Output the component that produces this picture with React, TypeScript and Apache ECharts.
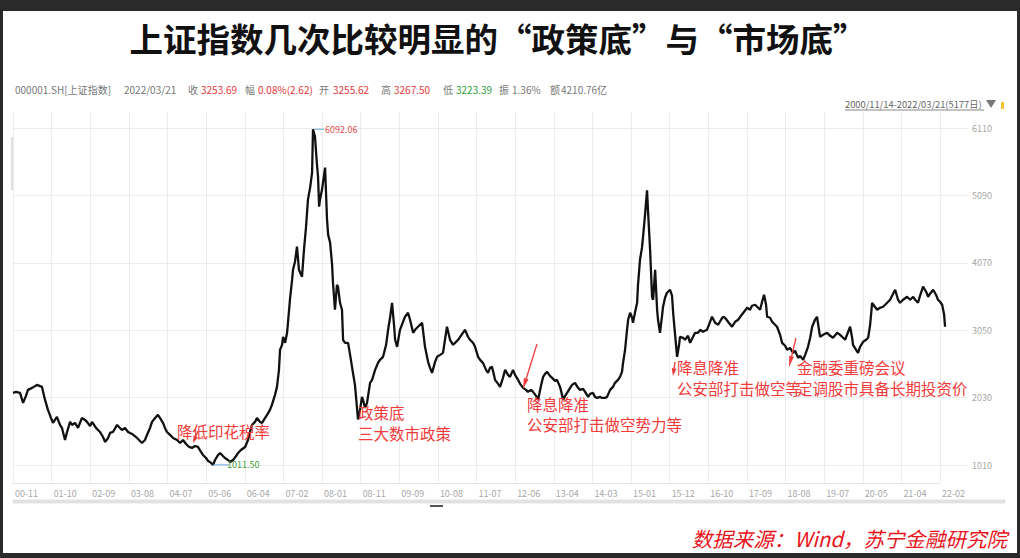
import React, { useEffect, useRef } from "react";
import * as echarts from "echarts";

// ---------------- data ----------------
const X_LABELS = [
  "00-11", "01-10", "02-09", "03-08", "04-07", "05-06", "06-04", "07-02", "08-01",
  "08-11", "09-09", "10-08", "11-07", "12-06", "13-04", "14-03", "15-01", "15-12",
  "16-10", "17-09", "18-08", "19-07", "20-05", "21-04", "22-02",
];
const Y_MIN = 1010;
const Y_MAX = 6110;
const Y_STEP = 1020;
const DAYS_PER_LABEL = 214.5; // trading days between two axis labels

// trading-day index (from 2000/11/14) and closing level of 上证指数
const TRADING_DAY = [
  0, 17, 39, 56, 72, 83, 106, 133, 161, 178, 194, 211, 222, 233, 244, 261, 272, 289, 300, 317,
  328, 344, 361, 383, 400, 411, 428, 439, 461, 483, 500, 511, 528, 539, 555, 578, 594, 605, 622, 639,
  661, 689, 716, 733, 744, 761, 772, 789, 805, 816, 833, 844, 855, 872, 889, 911, 928, 944, 961, 978,
  994, 1011, 1027, 1044, 1055, 1072, 1083, 1094, 1111, 1122, 1139, 1150, 1166, 1177, 1194, 1205, 1222, 1239, 1250, 1266,
  1289, 1305, 1316, 1327, 1344, 1355, 1372, 1383, 1400, 1411, 1427, 1438, 1455, 1466, 1477, 1483, 1494, 1500, 1511, 1522,
  1527, 1538, 1550, 1555, 1566, 1577, 1588, 1605, 1616, 1627, 1638, 1650, 1661, 1666, 1677, 1688, 1694, 1700, 1705, 1716,
  1733, 1744, 1750, 1761, 1772, 1777, 1788, 1799, 1805, 1816, 1827, 1833, 1844, 1861, 1872, 1888, 1899, 1916, 1927, 1938,
  1944, 1955, 1966, 1983, 1994, 2011, 2027, 2038, 2055, 2072, 2083, 2094, 2105, 2116, 2122, 2133, 2149, 2166, 2177, 2194,
  2205, 2222, 2233, 2249, 2272, 2288, 2305, 2316, 2327, 2344, 2355, 2372, 2388, 2399, 2410, 2427, 2444, 2455, 2472, 2483,
  2499, 2510, 2527, 2538, 2555, 2566, 2583, 2594, 2610, 2627, 2638, 2649, 2660, 2671, 2677, 2694, 2705, 2721, 2733, 2749,
  2760, 2777, 2788, 2805, 2816, 2833, 2849, 2860, 2877, 2888, 2905, 2916, 2933, 2944, 2955, 2966, 2982, 2994, 3010, 3021,
  3038, 3049, 3055, 3066, 3077, 3094, 3105, 3121, 3138, 3149, 3166, 3177, 3194, 3205, 3221, 3232, 3244, 3260, 3271, 3288,
  3299, 3316, 3332, 3343, 3360, 3371, 3382, 3388, 3399, 3410, 3416, 3427, 3438, 3443, 3455, 3466, 3471, 3482, 3493, 3499,
  3510, 3521, 3527, 3538, 3549, 3555, 3566, 3577, 3582, 3593, 3605, 3610, 3621, 3632, 3649, 3660, 3666, 3677, 3688, 3699,
  3704, 3721, 3732, 3749, 3760, 3777, 3788, 3804, 3816, 3832, 3854, 3871, 3882, 3899, 3916, 3932, 3943, 3954, 3971, 3993,
  4010, 4027, 4043, 4060, 4077, 4093, 4104, 4121, 4138, 4149, 4160, 4171, 4182, 4188, 4204, 4216, 4232, 4243, 4260, 4271,
  4288, 4299, 4315, 4332, 4343, 4360, 4371, 4388, 4399, 4415, 4427, 4438, 4454, 4465, 4476, 4482, 4499, 4521, 4538, 4554,
  4577, 4593, 4610, 4621, 4638, 4649, 4660, 4665, 4682, 4693, 4704, 4721, 4738, 4749, 4760, 4771, 4782, 4799, 4815, 4832,
  4849, 4871, 4882, 4899, 4915, 4926, 4943, 4965, 4982, 4999, 5010, 5026, 5037, 5054, 5071, 5082, 5093, 5110, 5126, 5137,
  5148, 5160, 5171, 5176,
];
const CLOSE = [
  2101, 2116, 2101, 1950, 2056, 2147, 2177, 2222, 2192, 1995,
  1844, 1722, 1647, 1692, 1737, 1616, 1571, 1389, 1510, 1662,
  1616, 1647, 1571, 1722, 1692, 1662, 1601, 1662, 1571, 1510,
  1434, 1359, 1419, 1495, 1510, 1616, 1571, 1540, 1571, 1510,
  1480, 1419, 1343, 1389, 1465, 1571, 1662, 1722, 1768, 1722,
  1647, 1571, 1510, 1465, 1419, 1389, 1343, 1389, 1328, 1283,
  1268, 1298, 1283, 1207, 1162, 1116, 1071, 1055, 1011.5, 1086,
  1162, 1192, 1146, 1116, 1086, 1055, 1086, 1146, 1192, 1237,
  1283, 1389, 1510, 1616, 1662, 1722, 1662, 1647, 1722, 1768,
  1844, 1919, 2071, 2192, 2450, 2753, 2829, 2950, 2859, 3011,
  3162, 3511, 3814, 3965, 4087, 4314, 3965, 3859, 4269, 4602,
  5026, 5208, 5436, 6092.06, 5981, 5557, 5375, 4920, 5026, 5178,
  5511, 4723, 4496, 4375, 4041, 3768, 3359, 3738, 3708, 3465,
  3359, 2905, 2859, 2859, 2677, 2404, 2222, 1700, 1844, 2041,
  1995, 1874, 1950, 2253, 2298, 2450, 2556, 2601, 2647, 2829,
  3056, 3238, 3465, 3132, 2905, 2798, 3056, 3177, 3253, 3314,
  3208, 3011, 3056, 3102, 3162, 2798, 2571, 2480, 2404, 2571,
  2647, 2677, 2707, 2905, 3102, 2905, 2829, 2859, 2905, 2950,
  3011, 3056, 2950, 2905, 2859, 2798, 2647, 2601, 2556, 2450,
  2404, 2480, 2495, 2374, 2298, 2238, 2192, 2329, 2450, 2374,
  2344, 2450, 2374, 2298, 2238, 2177, 2147, 2116, 2147, 2116,
  2056, 1995, 2222, 2344, 2389, 2420, 2359, 2329, 2283, 2298,
  2192, 2071, 1995, 2056, 2101, 2177, 2222, 2253, 2177, 2147,
  2162, 2116, 2041, 2086, 2101, 2041, 2025, 2041, 2025, 2025,
  2041, 2147, 2192, 2253, 2298, 2344, 2420, 2556, 2753, 3056,
  3208, 3314, 3238, 3162, 3329, 3465, 3738, 4117, 4299, 4466,
  4799, 5166, 4829, 4269, 3556, 3511, 3965, 3359, 3208, 3011,
  3283, 3405, 3541, 3617, 3662, 3571, 3314, 2980, 2647, 2829,
  2950, 2935, 2905, 2965, 2859, 2950, 3011, 3011, 3056, 3026,
  3056, 3177, 3253, 3162, 3132, 3208, 3253, 3238, 3177, 3102,
  3177, 3208, 3268, 3329, 3389, 3359, 3420, 3435, 3389, 3359,
  3480, 3587, 3435, 3253, 3238, 3177, 3132, 3102, 2980, 2859,
  2814, 2753, 2783, 2707, 2738, 2632, 2662, 2601, 2677, 2798,
  2935, 3102, 3208, 3253, 3056, 2950, 2980, 3011, 2965, 2935,
  3011, 2980, 2935, 2905, 3026, 3102, 2935, 2829, 2753, 2707,
  2798, 2874, 2905, 2935, 3132, 3465, 3420, 3359, 3389, 3405,
  3450, 3511, 3571, 3662, 3511, 3465, 3511, 3556, 3511, 3556,
  3511, 3465, 3571, 3708, 3632, 3556, 3602, 3662, 3587, 3511,
  3480, 3435, 3283, 3102,
];

const TITLE = "上证指数几次比较明显的“政策底”与“市场底”";
const QUOTE_TEXTS = [
  "000001.SH[上证指数]", "2022/03/21", "收", "3253.69", "幅", "0.08%(2.62)", "开", "3255.62",
  "高", "3267.50", "低", "3223.39", "振", "1.36%", "额", "4210.76亿",
];
const RANGE_TEXT = "2000/11/14-2022/03/21(5177日)";
const SOURCE_TEXT = "数据来源：Wind，苏宁金融研究院";
const NOTE_TEXTS = [
  "降低印花税率",
  "政策底", "三大数市政策",
  "降息降准", "公安部打击做空势力等",
  "降息降准", "公安部打击做空等",
  "金融委重磅会议", "定调股市具备长期投资价",
];

// ---------------- presentation ----------------
const FONT = '"Noto Sans CJK SC", "Noto Sans", sans-serif';
const RED = "#f23b3b";
const GRID_LINE = "#ececec";

function txt(x: number, y: number, text: string, o: any = {}) {
  const align = o.align || "left";
  return {
    type: "text",
    x,
    y,
    z: 60,
    silent: true,
    style: {
      text,
      fill: o.fill || "#777",
      fontSize: o.fontSize || 10,
      fontFamily: o.fontFamily || FONT,
      fontWeight: o.fontWeight || "normal",
      fontStyle: o.fontStyle || "normal",
      align,
      textAlign: align,
      verticalAlign: "middle",
      textVerticalAlign: "middle",
    },
  };
}

function arrow(ax: number, ay: number, bx: number, by: number, color = RED) {
  const dx = bx - ax;
  const dy = by - ay;
  const len = Math.hypot(dx, dy);
  const ux = dx / len;
  const uy = dy / len;
  const hl = Math.min(11, len * 0.55);
  const hw = 2.4;
  const cx = bx - ux * hl;
  const cy = by - uy * hl;
  return [
    { type: "line", z: 55, silent: true, shape: { x1: ax, y1: ay, x2: cx, y2: cy }, style: { stroke: color, lineWidth: 1.3 } },
    {
      type: "polygon",
      z: 55,
      silent: true,
      shape: { points: [[bx, by], [cx - uy * hw, cy + ux * hw], [cx + uy * hw, cy - ux * hw]] },
      style: { fill: color },
    },
  ];
}

export default function App() {
  const ref = useRef<HTMLDivElement>(null);

  useEffect(() => {
    if (!ref.current) return;
    const chart = echarts.init(ref.current, null, { renderer: "svg" });
    const n = Math.min(TRADING_DAY.length, CLOSE.length);
    const points = [];
    for (let i = 0; i < n; i++) points.push([TRADING_DAY[i], CLOSE[i]]);

    const labelMaxDay = DAYS_PER_LABEL * (X_LABELS.length - 1);
    const gridLeft = 13;
    const gridBWidth = 927;
    const gridAWidth = 955;
    const dataMaxDay = labelMaxDay * (gridAWidth / gridBWidth);

    chart.setOption({
      animation: false,
      backgroundColor: "#ffffff",
      grid: [
        { left: gridLeft, top: 128, width: gridAWidth, height: 337, outerBoundsMode: "none" },
        { left: gridLeft, top: 112, width: gridBWidth, height: 371, outerBoundsMode: "none" },
      ],
      xAxis: [
        { type: "value", gridIndex: 0, min: 0, max: dataMaxDay, show: false },
        {
          type: "value",
          gridIndex: 1,
          min: 0,
          max: labelMaxDay,
          interval: DAYS_PER_LABEL,
          axisLine: { show: true, lineStyle: { color: "#e6e6e6" } },
          axisTick: { show: false },
          splitLine: { show: true, lineStyle: { color: GRID_LINE, width: 1 } },
          axisLabel: {
            color: "#a8a8a8",
            fontSize: 9,
            fontFamily: FONT,
            align: "left",
            margin: 6,
            padding: [0, 0, 0, 2],
            formatter: (v: number) => {
              const i = Math.round(v / DAYS_PER_LABEL);
              return Math.abs(v - i * DAYS_PER_LABEL) < 0.5 ? X_LABELS[i] || "" : "";
            },
          },
        },
      ],
      yAxis: [
        {
          type: "value",
          gridIndex: 0,
          position: "right",
          min: Y_MIN,
          max: Y_MAX,
          interval: Y_STEP,
          axisLine: { show: false },
          axisTick: { show: false },
          splitLine: { show: true, lineStyle: { color: GRID_LINE, width: 1 } },
          axisLabel: {
            color: "#a8a8a8",
            fontSize: 9,
            fontFamily: FONT,
            margin: 4,
            formatter: (v: number) => String(Math.round(v)),
          },
        },
        { type: "value", gridIndex: 1, min: 0, max: 1, show: false },
      ],
      series: [
        {
          type: "line",
          xAxisIndex: 0,
          yAxisIndex: 0,
          data: points,
          showSymbol: false,
          symbol: "none",
          silent: true,
          lineStyle: { color: "#111111", width: 2.3 },
          z: 5,
        },
      ],
    });

    // max / min markers, positioned from the data through the axes
    let maxI = 0;
    let minI = 0;
    for (let i = 0; i < n; i++) {
      if (CLOSE[i] > CLOSE[maxI]) maxI = i;
      if (CLOSE[i] < CLOSE[minI]) minI = i;
    }
    const pMax = chart.convertToPixel({ seriesIndex: 0 }, [TRADING_DAY[maxI], CLOSE[maxI]]) as number[];
    const pMin = chart.convertToPixel({ seriesIndex: 0 }, [TRADING_DAY[minI], CLOSE[minI]]) as number[];

    const headerX = [15, 124, 188, 201, 245, 258, 319, 333, 381, 394, 443, 456, 499, 512, 550, 561];
    const headerColor = (i: number) => {
      if (i === 3 || i === 5 || i === 7 || i === 9) return "#e4393c";
      if (i === 11) return "#2e9e3a";
      return "#777";
    };

    const g: any[] = [];
    // title
    g.push(txt(498, 37, TITLE, { fill: "#111", fontSize: 33.5, fontWeight: "bold", align: "center" }));
    // quote header
    QUOTE_TEXTS.forEach((t, i) => g.push(txt(headerX[i], 89, t, { fill: headerColor(i), fontSize: 10 })));
    // range selector
    g.push(txt(845, 104, RANGE_TEXT, { fill: "#666", fontSize: 9.3 }));
    g.push({ type: "line", z: 60, silent: true, shape: { x1: 845, y1: 110, x2: 984, y2: 110 }, style: { stroke: "#888", lineWidth: 1 } });
    g.push({ type: "polygon", z: 60, silent: true, shape: { points: [[986, 100], [996, 100], [991, 108]] }, style: { fill: "#777" } });
    g.push({ type: "rect", z: 60, silent: true, shape: { x: 1001, y: 102, width: 3, height: 7 }, style: { fill: "#f2c230" } });
    // faint left marker
    g.push({ type: "line", z: 60, silent: true, shape: { x1: 12, y1: 137, x2: 12, y2: 190 }, style: { stroke: "#d4d4d4", lineWidth: 1.5 } });

    // extreme labels
    g.push({ type: "line", z: 58, silent: true, shape: { x1: pMax[0] + 1, y1: pMax[1], x2: pMax[0] + 11, y2: pMax[1] }, style: { stroke: "#6aa6d8", lineWidth: 1 } });
    g.push(txt(pMax[0] + 12, pMax[1], CLOSE[maxI].toFixed(2), { fill: "#e05050", fontSize: 9 }));
    g.push({ type: "line", z: 58, silent: true, shape: { x1: pMin[0], y1: pMin[1], x2: pMin[0] + 16, y2: pMin[1] }, style: { stroke: "#6aa6d8", lineWidth: 1 } });
    g.push(txt(pMin[0] + 14, pMin[1], CLOSE[minI].toFixed(2), { fill: "#3aa040", fontSize: 9 }));

    // annotations
    const noteStyle = { fill: RED, fontSize: 15.5 };
    g.push(txt(177, 431, NOTE_TEXTS[0], noteStyle));
    g.push(txt(358, 412, NOTE_TEXTS[1], noteStyle));
    g.push(txt(358, 433, NOTE_TEXTS[2], noteStyle));
    g.push(txt(527, 404, NOTE_TEXTS[3], noteStyle));
    g.push(txt(527, 424, NOTE_TEXTS[4], noteStyle));
    g.push(txt(677, 367, NOTE_TEXTS[5], noteStyle));
    g.push(txt(677, 388, NOTE_TEXTS[6], noteStyle));
    g.push(txt(797, 367, NOTE_TEXTS[7], noteStyle));
    g.push(txt(797, 388, NOTE_TEXTS[8], noteStyle));
    g.push(...arrow(198, 431, 193, 443));
    g.push(...arrow(537, 344, 523, 389));
    g.push(...arrow(675, 362, 673, 376));
    g.push(...arrow(796, 338, 789, 367));

    // slider strip under the x axis
    g.push({ type: "rect", z: 40, silent: true, shape: { x: 13, y: 500, width: 992, height: 3 }, style: { fill: "#e4e4e4", stroke: "#d6d6d6", lineWidth: 0.6 } });
    g.push({ type: "rect", z: 40, silent: true, shape: { x: 430, y: 505, width: 13, height: 2 }, style: { fill: "#555" } });

    // source
    g.push(txt(1007, 538, SOURCE_TEXT, { fill: "#e8141c", fontSize: 20.5, fontStyle: "italic", align: "right" }));

    // dark frame around the white panel
    const dark = "#2a2a2a";
    g.push({ type: "rect", z: 100, silent: true, shape: { x: 0, y: 0, width: 1020, height: 11 }, style: { fill: dark } });
    g.push({ type: "rect", z: 100, silent: true, shape: { x: 0, y: 0, width: 3, height: 558 }, style: { fill: dark } });
    g.push({ type: "rect", z: 100, silent: true, shape: { x: 1017, y: 0, width: 3, height: 558 }, style: { fill: dark } });
    g.push({ type: "rect", z: 100, silent: true, shape: { x: 0, y: 553, width: 1020, height: 5 }, style: { fill: dark } });

    chart.setOption({ graphic: g });

    return () => chart.dispose();
  }, []);

  return (
    <div
      ref={ref}
      style={{ position: "fixed", left: 0, top: 0, width: 1020, height: 558 }}
    />
  );
}
